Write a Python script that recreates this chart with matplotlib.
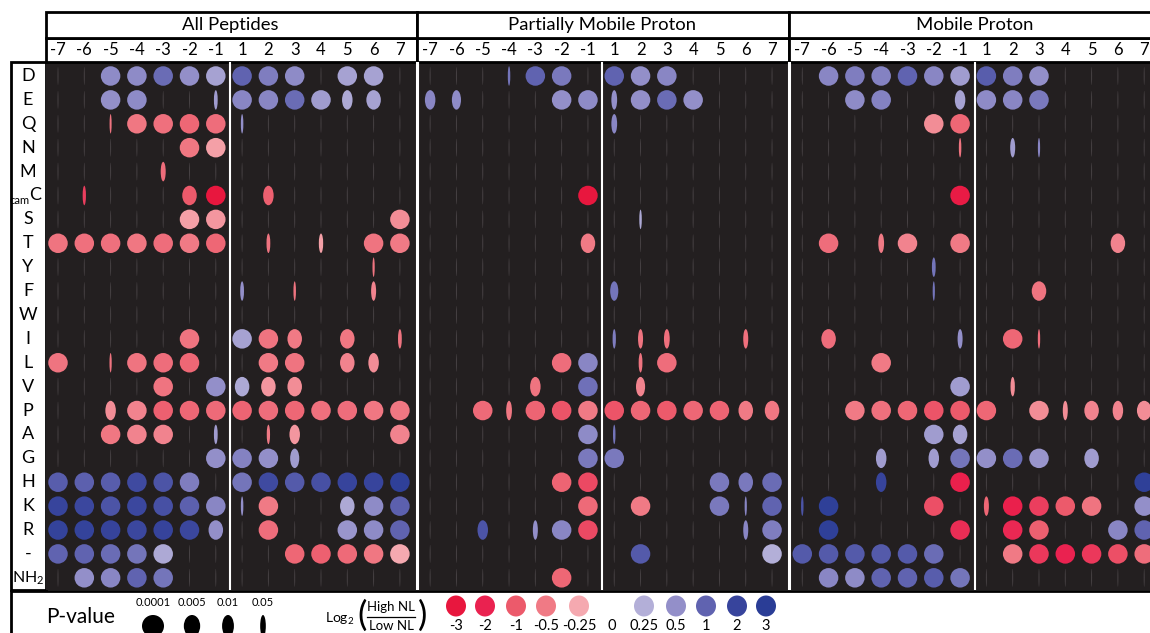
import numpy as np
import matplotlib.pyplot as plt
import matplotlib.colors as mcolors
from matplotlib.patches import Ellipse, Rectangle

plt.rcParams['font.family'] = ['Lato', 'DejaVu Sans']
plt.rcParams['mathtext.fontset'] = 'custom'
plt.rcParams['mathtext.rm'] = 'Lato'
plt.rcParams['mathtext.it'] = 'Lato:italic'

residues = ['D', 'E', 'Q', 'N', 'M', 'camC', 'S', 'T', 'Y', 'F', 'W', 'I', 'L', 'V',
            'P', 'A', 'G', 'H', 'K', 'R', '-', 'NH2']
positions = [-7, -6, -5, -4, -3, -2, -1, 1, 2, 3, 4, 5, 6, 7]
panel_titles = ['All Peptides', 'Partially Mobile Proton', 'Mobile Proton']

# (residue, position, log2(high NL / low NL), p-value); cells not listed are not significant
all_peptides = [
    ('D', -5, 0.55, 1e-4), ('D', -4, 0.55, 1e-4), ('D', -3, 0.9, 1e-4), ('D', -2, 0.5, 1e-4),
    ('D', -1, 0.35, 1e-4), ('D', 1, 1.0, 1e-4), ('D', 2, 0.7, 1e-4), ('D', 3, 0.55, 1e-4),
    ('D', 5, 0.35, 1e-4), ('D', 6, 0.35, 1e-4),
    ('E', -5, 0.5, 1e-4), ('E', -4, 0.55, 1e-4), ('E', -1, 0.4, 0.07), ('E', 1, 0.6, 1e-4),
    ('E', 2, 0.6, 1e-4), ('E', 3, 0.9, 1e-4), ('E', 4, 0.4, 1e-4), ('E', 5, 0.3, 0.01),
    ('E', 6, 0.35, 0.005),
    ('Q', -5, -0.6, 0.2), ('Q', -4, -0.55, 1e-4), ('Q', -3, -0.65, 1e-4), ('Q', -2, -0.8, 1e-4),
    ('Q', -1, -0.7, 1e-4), ('Q', 1, 0.5, 0.1),
    ('N', -2, -0.55, 1e-4), ('N', -1, -0.3, 1e-4),
    ('M', -3, -0.7, 0.05),
    ('camC', -6, -1.5, 0.08), ('camC', -2, -1.0, 0.005), ('camC', -1, -3.0, 1e-4),
    ('camC', 2, -0.9, 0.01),
    ('S', -2, -0.3, 1e-4), ('S', -1, -0.35, 1e-4), ('S', 7, -0.4, 1e-4),
    ('T', -7, -0.6, 1e-4), ('T', -6, -0.65, 1e-4), ('T', -5, -0.65, 1e-4), ('T', -4, -0.55, 1e-4),
    ('T', -3, -0.7, 1e-4), ('T', -2, -0.5, 1e-4), ('T', -1, -0.8, 1e-4), ('T', 2, -0.6, 0.07),
    ('T', 4, -0.3, 0.06), ('T', 6, -0.6, 1e-4), ('T', 7, -0.5, 1e-4),
    ('Y', 6, -0.6, 0.15),
    ('F', 1, 0.5, 0.07), ('F', 3, -0.6, 0.1), ('F', 6, -0.45, 0.05),
    ('I', -2, -0.6, 1e-4), ('I', 1, 0.35, 1e-4), ('I', 2, -0.6, 1e-4), ('I', 3, -0.5, 0.005),
    ('I', 5, -0.55, 0.005), ('I', 7, -0.6, 0.07),
    ('L', -7, -0.6, 1e-4), ('L', -5, -0.6, 0.15), ('L', -4, -0.6, 1e-4), ('L', -3, -0.7, 1e-4),
    ('L', -2, -0.8, 1e-4), ('L', 2, -0.5, 1e-4), ('L', 3, -0.6, 1e-4), ('L', 5, -0.45, 0.005),
    ('L', 6, -0.4, 0.01),
    ('V', -3, -0.6, 1e-4), ('V', -1, 0.5, 1e-4), ('V', 1, 0.3, 0.005), ('V', 2, -0.35, 0.005),
    ('V', 3, -0.4, 0.005),
    ('P', -5, -0.4, 0.01), ('P', -4, -0.45, 1e-4), ('P', -3, -0.9, 1e-4), ('P', -2, -0.8, 1e-4),
    ('P', -1, -0.75, 1e-4), ('P', 1, -0.85, 1e-4), ('P', 2, -0.7, 1e-4), ('P', 3, -0.8, 1e-4),
    ('P', 4, -0.65, 1e-4), ('P', 5, -0.7, 1e-4), ('P', 6, -0.55, 1e-4), ('P', 7, -0.55, 1e-4),
    ('A', -5, -0.55, 1e-4), ('A', -4, -0.45, 1e-4), ('A', -3, -0.45, 1e-4), ('A', -1, 0.4, 0.07),
    ('A', 2, -0.5, 0.08), ('A', 3, -0.35, 0.01), ('A', 7, -0.45, 1e-4),
    ('G', -1, 0.5, 1e-4), ('G', 1, 0.65, 1e-4), ('G', 2, 0.5, 1e-4), ('G', 3, 0.4, 0.015),
    ('H', -7, 1.2, 1e-4), ('H', -6, 1.1, 1e-4), ('H', -5, 1.2, 1e-4), ('H', -4, 1.8, 1e-4),
    ('H', -3, 1.5, 1e-4), ('H', -2, 0.7, 1e-4), ('H', 1, 0.8, 1e-4), ('H', 2, 1.8, 1e-4),
    ('H', 3, 1.3, 1e-4), ('H', 4, 1.6, 1e-4), ('H', 5, 2.0, 1e-4), ('H', 6, 2.0, 1e-4),
    ('H', 7, 2.6, 1e-4),
    ('K', -7, 2.0, 1e-4), ('K', -6, 1.9, 1e-4), ('K', -5, 1.5, 1e-4), ('K', -4, 1.9, 1e-4),
    ('K', -3, 1.6, 1e-4), ('K', -2, 1.1, 1e-4), ('K', -1, 0.6, 1e-4), ('K', 1, 0.5, 0.1),
    ('K', 2, -0.5, 1e-4), ('K', 5, 0.3, 0.005), ('K', 6, 0.55, 1e-4), ('K', 7, 1.1, 1e-4),
    ('R', -7, 2.2, 1e-4), ('R', -6, 2.2, 1e-4), ('R', -5, 2.1, 1e-4), ('R', -4, 1.9, 1e-4),
    ('R', -3, 2.1, 1e-4), ('R', -2, 1.9, 1e-4), ('R', -1, 0.5, 0.005), ('R', 2, -0.7, 1e-4),
    ('R', 5, 0.45, 1e-4), ('R', 6, 0.55, 1e-4), ('R', 7, 1.0, 1e-4),
    ('-', -7, 1.0, 1e-4), ('-', -6, 1.0, 1e-4), ('-', -5, 0.9, 1e-4), ('-', -4, 0.8, 1e-4),
    ('-', -3, 0.3, 1e-4), ('-', 3, -0.8, 1e-4), ('-', 4, -0.9, 1e-4), ('-', 5, -0.75, 1e-4),
    ('-', 6, -0.55, 1e-4), ('-', 7, -0.25, 1e-4),
    ('NH2', -6, 0.5, 1e-4), ('NH2', -5, 0.6, 1e-4), ('NH2', -4, 1.0, 1e-4), ('NH2', -3, 0.8, 1e-4),
]

partially_mobile = [
    ('D', -4, 0.8, 0.1), ('D', -3, 1.0, 1e-4), ('D', -2, 0.75, 1e-4), ('D', 1, 1.0, 1e-4),
    ('D', 2, 0.5, 1e-4), ('D', 3, 0.6, 1e-4),
    ('E', -7, 0.6, 0.01), ('E', -6, 0.55, 0.015), ('E', -2, 0.5, 1e-4), ('E', -1, 0.55, 1e-4),
    ('E', 1, 0.5, 0.04), ('E', 2, 0.5, 1e-4), ('E', 3, 0.9, 1e-4), ('E', 4, 0.5, 1e-4),
    ('Q', 1, 0.6, 0.04),
    ('camC', -1, -3.0, 1e-4),
    ('S', 2, 0.3, 0.1),
    ('T', -1, -0.5, 0.005),
    ('F', 1, 0.8, 0.02),
    ('I', 1, 0.7, 0.08), ('I', 2, -0.6, 0.05), ('I', 3, -0.65, 0.04), ('I', 6, -0.65, 0.05),
    ('L', -2, -0.7, 1e-4), ('L', -1, 0.6, 1e-4), ('L', 2, -0.6, 0.07), ('L', 3, -0.7, 1e-4),
    ('V', -3, -0.6, 0.01), ('V', -1, 0.85, 1e-4), ('V', 2, -0.45, 0.015),
    ('P', -5, -0.75, 1e-4), ('P', -4, -0.55, 0.04), ('P', -3, -0.85, 1e-4), ('P', -2, -1.1, 1e-4),
    ('P', -1, -0.5, 1e-4), ('P', 1, -1.1, 1e-4), ('P', 2, -0.8, 1e-4), ('P', 3, -1.0, 1e-4),
    ('P', 4, -0.8, 1e-4), ('P', 5, -0.85, 1e-4), ('P', 6, -0.5, 0.005), ('P', 7, -0.55, 0.005),
    ('A', -1, 0.55, 1e-4), ('A', 1, 0.8, 0.1),
    ('G', -1, 0.75, 1e-4), ('G', 1, 0.75, 1e-4),
    ('H', -2, -0.85, 1e-4), ('H', -1, -1.3, 1e-4), ('H', 5, 0.75, 1e-4), ('H', 6, 0.75, 0.005),
    ('H', 7, 0.9, 1e-4),
    ('K', -1, -0.75, 1e-4), ('K', 2, -0.5, 1e-4), ('K', 5, 0.75, 1e-4), ('K', 6, 0.6, 0.15),
    ('K', 7, 1.0, 1e-4),
    ('R', -5, 1.5, 0.01), ('R', -3, 0.5, 0.05), ('R', -2, 0.6, 1e-4), ('R', -1, -1.3, 1e-4),
    ('R', 6, 0.6, 0.05), ('R', 7, 0.7, 1e-4),
    ('-', 2, 1.3, 1e-4), ('-', 7, 0.25, 1e-4),
    ('NH2', -2, -0.8, 1e-4),
]

mobile = [
    ('D', -6, 0.6, 1e-4), ('D', -5, 0.7, 1e-4), ('D', -4, 0.65, 1e-4), ('D', -3, 1.0, 1e-4),
    ('D', -2, 0.6, 1e-4), ('D', -1, 0.4, 1e-4), ('D', 1, 1.2, 1e-4), ('D', 2, 0.7, 1e-4),
    ('D', 3, 0.5, 1e-4),
    ('E', -5, 0.55, 1e-4), ('E', -4, 0.65, 1e-4), ('E', -1, 0.35, 0.01), ('E', 1, 0.55, 1e-4),
    ('E', 2, 0.6, 1e-4), ('E', 3, 0.75, 1e-4),
    ('Q', -2, -0.4, 1e-4), ('Q', -1, -0.8, 1e-4),
    ('N', -1, -0.6, 0.1), ('N', 2, 0.4, 0.05), ('N', 3, 0.6, 0.15),
    ('camC', -1, -2.6, 1e-4),
    ('T', -6, -0.7, 1e-4), ('T', -4, -0.5, 0.04), ('T', -3, -0.45, 1e-4), ('T', -1, -0.5, 1e-4),
    ('T', 6, -0.45, 0.005),
    ('Y', -2, 0.8, 0.07),
    ('F', -2, 0.8, 0.15), ('F', 3, -0.6, 0.005),
    ('I', -6, -0.7, 0.005), ('I', -1, 0.5, 0.05), ('I', 2, -0.8, 1e-4), ('I', 3, -0.7, 0.12),
    ('L', -4, -0.5, 1e-4),
    ('V', -1, 0.4, 1e-4), ('V', 2, -0.4, 0.06),
    ('P', -5, -0.5, 1e-4), ('P', -4, -0.65, 1e-4), ('P', -3, -0.8, 1e-4), ('P', -2, -1.1, 1e-4),
    ('P', -1, -1.0, 1e-4), ('P', 1, -0.8, 1e-4), ('P', 3, -0.4, 1e-4), ('P', 4, -0.4, 0.05),
    ('P', 5, -0.45, 0.005), ('P', 6, -0.45, 0.01), ('P', 7, -0.4, 0.005),
    ('A', -2, 0.4, 1e-4), ('A', -1, 0.35, 0.005),
    ('G', -4, 0.4, 0.01), ('G', -2, 0.4, 0.01), ('G', -1, 0.8, 1e-4), ('G', 1, 0.5, 1e-4),
    ('G', 2, 0.9, 1e-4), ('G', 3, 0.45, 1e-4), ('G', 5, 0.4, 0.005),
    ('H', -4, 2.0, 0.01), ('H', -1, -2.2, 1e-4), ('H', 7, 2.6, 1e-4),
    ('K', -7, 1.5, 0.1), ('K', -6, 2.6, 1e-4), ('K', -2, -1.2, 1e-4), ('K', 1, -0.8, 0.05),
    ('K', 2, -2.2, 1e-4), ('K', 3, -1.5, 1e-4), ('K', 4, -1.0, 1e-4), ('K', 5, -0.6, 1e-4),
    ('K', 7, 0.5, 1e-4),
    ('R', -6, 2.6, 1e-4), ('R', -1, -1.8, 1e-4), ('R', 2, -1.9, 1e-4), ('R', 3, -0.9, 1e-4),
    ('R', 6, 0.6, 1e-4), ('R', 7, 1.0, 1e-4),
    ('-', -7, 1.3, 1e-4), ('-', -6, 1.3, 1e-4), ('-', -5, 1.3, 1e-4), ('-', -4, 1.3, 1e-4),
    ('-', -3, 1.3, 1e-4), ('-', -2, 0.9, 1e-4), ('-', 2, -0.5, 1e-4), ('-', 3, -1.6, 1e-4),
    ('-', 4, -2.0, 1e-4), ('-', 5, -1.6, 1e-4), ('-', 6, -1.2, 1e-4), ('-', 7, -0.7, 1e-4),
    ('NH2', -6, 0.6, 1e-4), ('NH2', -5, 0.55, 1e-4), ('NH2', -4, 1.0, 1e-4), ('NH2', -3, 1.0, 1e-4),
    ('NH2', -2, 1.2, 1e-4), ('NH2', -1, 0.8, 1e-4),
]

legend_pvalues = [0.0001, 0.005, 0.01, 0.05]
legend_red = [-3, -2, -1, -0.5, -0.25]
legend_blue = [0.25, 0.5, 1, 2, 3]

# diverging colour scale anchored at the legend swatches
scale_vals = [-3, -2, -1, -0.5, -0.25, 0, 0.25, 0.5, 1, 2, 3]
scale_cols = ['#e8173e', '#ea2250', '#ec5a6b', '#f07a85', '#f5a9b0', '#ddd5de',
              '#b3afd8', '#938fc9', '#6063b0', '#37449c', '#2a3d96']
scale_rgb = np.array([mcolors.to_rgb(c) for c in scale_cols])


def ratio_colour(v):
    return tuple(np.interp(v, scale_vals, scale_rgb[:, k]) for k in range(3))


def dot_width(p):
    # ellipse width in pixels shrinks as the p-value grows
    return np.interp(-np.log10(p), [0, 1, 1.3, 2, 2.3, 4], [1.0, 2.5, 5, 10.5, 14.5, 19.5])


PX_X, PX_Y = 26.3, 23.9       # pixels per column / per row
DOT_H = 19.5
STEP = 14.15                  # column offset between panels

fig = plt.figure(figsize=(11.5, 6.33), dpi=100)
canvas = fig.add_axes([0, 0, 1, 1], zorder=0)
canvas.set_xlim(0, 1150)
canvas.set_ylim(633, 0)
canvas.axis('off')

ax = fig.add_axes([46 / 1150, 1 - 590 / 633, 1104 / 1150, 528 / 633], zorder=1)
ax.set_facecolor('#231f20')
ax.set_xlim(-12 / PX_X, 1092 / PX_X)
ax.set_ylim(21.51, -0.586)
ax.set_xticks([])
ax.set_yticks([])
for s in ax.spines.values():
    s.set_visible(False)

for p, cells in enumerate([all_peptides, partially_mobile, mobile]):
    sig = {(r, pos): (v, pv) for r, pos, v, pv in cells}
    for i, res in enumerate(residues):
        for j, pos in enumerate(positions):
            x = p * STEP + j
            if (res, pos) in sig:
                v, pv = sig[(res, pos)]
                ax.add_patch(Ellipse((x, i), dot_width(pv) / PX_X, DOT_H / PX_Y,
                                     facecolor=ratio_colour(v), edgecolor='none'))
            else:
                ax.add_patch(Ellipse((x, i), 1.0 / PX_X, 18 / PX_Y,
                                     facecolor='#8a8287', alpha=0.35, edgecolor='none'))
    if p > 0:
        ax.axvline(p * STEP - 0.49, color='white', lw=2.2)
    ax.axvline(p * STEP + 6.55, color='white', lw=1.5)

# header boxes: panel titles and position labels
xt = ax.get_xaxis_transform()
for p, title in enumerate(panel_titles):
    left = p * STEP - 0.49 if p else ax.get_xlim()[0]
    right = (p + 1) * STEP - 0.49
    for y0, y1 in [(1.0, 1.0455), (1.0455, 1.0947)]:
        ax.add_patch(Rectangle((left, y0), right - left, y1 - y0, transform=xt,
                               facecolor='white', edgecolor='black', lw=2, clip_on=False))
    ax.text(p * STEP + 6.55, 1.0701, title, transform=xt, ha='center', va='center',
            fontsize=13.3)
    for j, pos in enumerate(positions):
        ax.text(p * STEP + j, 1.0227, str(pos), transform=xt, ha='center', va='center',
                fontsize=12)

# residue labels
canvas.add_patch(Rectangle((11, 62), 35, 528, facecolor='white', edgecolor='black', lw=2))
yt = ax.get_yaxis_transform()
for i, res in enumerate(residues):
    if res == 'camC':
        ax.text(-0.0095, i, 'C', transform=yt, ha='center', va='center', fontsize=13)
        ax.text(-0.0148, i + 0.22, 'cam', transform=yt, ha='right', va='center', fontsize=8)
    elif res == 'NH2':
        ax.text(-0.0158, i, r'$\mathrm{NH_2}$', transform=yt, ha='center', va='center',
                fontsize=11.5)
    else:
        ax.text(-0.0163, i, res, transform=yt, ha='center', va='center', fontsize=13)

# legend
canvas.add_patch(Rectangle((11, 591), 1145, 50, facecolor='white', edgecolor='black', lw=2))
canvas.text(81, 617, 'P-value', fontsize=15, ha='center', va='center')
for cx, pv in zip([153, 192, 228, 263], legend_pvalues):
    canvas.text(cx, 603, f'{pv:g}' if pv < 0.001 else str(pv), fontsize=8, ha='center', va='center')
    canvas.add_patch(Ellipse((cx, 626), dot_width(pv) * 22 / DOT_H, 22, facecolor='black'))

canvas.text(340, 619, r'Log$_2$', fontsize=10, ha='center', va='center')
canvas.text(362, 616, '(', fontsize=25, ha='center', va='center')
canvas.text(423, 616, ')', fontsize=25, ha='center', va='center')
canvas.text(391, 607, 'High NL', fontsize=9.5, ha='center', va='center')
canvas.text(391, 626, 'Low NL', fontsize=9.5, ha='center', va='center')
canvas.plot([367, 415], [616.5, 616.5], color='black', lw=0.9)

swatch_x = [456, 485, 516, 546, 579, 644, 676, 706, 737, 766]
for cx, v in zip(swatch_x, legend_red + legend_blue):
    canvas.add_patch(Ellipse((cx, 606), 20, 21, facecolor=ratio_colour(v), edgecolor='none'))
    canvas.text(cx, 626, f'{v:g}', fontsize=10.5, ha='center', va='center')
canvas.text(612, 626, '0', fontsize=10.5, ha='center', va='center')

fig.savefig('out.png', dpi=100)
